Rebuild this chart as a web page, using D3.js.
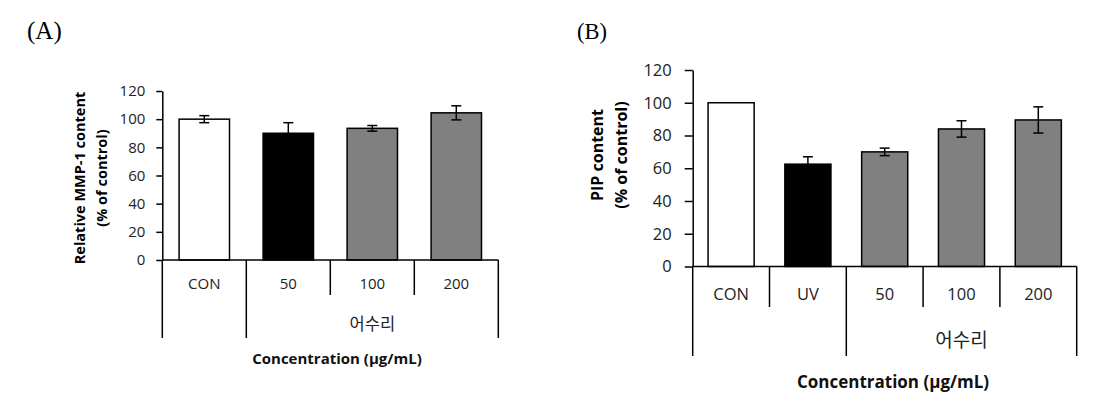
<!DOCTYPE html>
<html><head><meta charset="utf-8">
<script src="https://cdn.jsdelivr.net/npm/d3@7"></script>
<style>body{margin:0;background:#fff}svg{display:block}</style>
</head><body>
<svg id="c" width="1103" height="410"></svg>
<script>
// ---- data ----
const catsA = ["CON", "50", "100", "200"];
const valsA = [100, 90, 93.5, 104.5];
const errA = [2.5, 7.5, 2, 5];
const fillsA = ["#ffffff", "#000000", "#808080", "#808080"];
const groupsA = [{label: "", cats: ["CON"]}, {label: "어수리", cats: ["50", "100", "200"]}];

const catsB = ["CON", "UV", "50", "100", "200"];
const valsB = [100, 62.5, 70, 84, 89.5];
const errB = [0, 4.5, 2.3, 5, 8];
const fillsB = ["#ffffff", "#000000", "#808080", "#808080", "#808080"];
const groupsB = [{label: "", cats: ["CON", "UV"]}, {label: "어수리", cats: ["50", "100", "200"]}];

const yTicks = [0, 20, 40, 60, 80, 100, 120];
const xTitle = "Concentration (μg/mL)";

const svg = d3.select("#c");
const sans = "'Open Sans', 'Noto Sans CJK KR', sans-serif";

function panel(o) {
  const g = svg.append("g");
  const x = d3.scaleBand().domain(o.cats).range([o.x0, o.x1]).padding(0);
  const y = d3.scaleLinear().domain([0, 120]).range([o.yb, o.yt]);
  const bw = x.bandwidth() * o.barFrac;

  // panel letter
  g.append("text").attr("x", o.letterX).attr("y", 39)
    .attr("font-family", "'Liberation Serif','DejaVu Serif',serif").attr("font-size", o.letterSize)
    .attr("fill", "#000").text(o.letter);

  // bars
  g.selectAll("rect.bar").data(o.cats).join("rect")
    .attr("x", d => x(d) + (x.bandwidth() - bw) / 2)
    .attr("y", (d, i) => y(o.vals[i]))
    .attr("width", bw)
    .attr("height", (d, i) => y(0) - y(o.vals[i]))
    .attr("fill", (d, i) => o.fills[i])
    .attr("stroke", "#000").attr("stroke-width", 1.5);

  // error bars
  const cap = 5;
  o.cats.forEach((d, i) => {
    if (!o.errs[i]) return;
    const cx = x(d) + x.bandwidth() / 2;
    const top = y(o.vals[i] + o.errs[i]), bot = y(o.vals[i] - o.errs[i]);
    g.append("line").attr("x1", cx).attr("x2", cx).attr("y1", top).attr("y2", bot).attr("stroke", "#000").attr("stroke-width", 1.5);
    g.append("line").attr("x1", cx - cap).attr("x2", cx + cap).attr("y1", top).attr("y2", top).attr("stroke", "#000").attr("stroke-width", 1.5);
    g.append("line").attr("x1", cx - cap).attr("x2", cx + cap).attr("y1", bot).attr("y2", bot).attr("stroke", "#000").attr("stroke-width", 1.5);
  });

  // y axis
  const ya = g.append("g").attr("transform", `translate(${o.x0},0)`)
    .call(d3.axisLeft(y).tickValues(yTicks).tickSize(o.tickSize).tickSizeOuter(0).tickPadding(o.tickPad));
  ya.select(".domain").attr("stroke", "#000").attr("stroke-width", 1.5);
  ya.selectAll(".tick line").attr("stroke", "#000").attr("stroke-width", 1.5);
  ya.selectAll(".tick text").attr("font-family", sans).attr("font-size", o.fs).attr("fill", "#222");

  // x baseline
  g.append("line").attr("x1", o.x0).attr("x2", o.x1).attr("y1", y(0)).attr("y2", y(0)).attr("stroke", "#000").attr("stroke-width", 1.5);

  // separators
  const groupEdges = new Set();
  groupEdges.add(o.x0); groupEdges.add(o.x1);
  o.groups.forEach(gr => {
    groupEdges.add(x(gr.cats[0]));
    groupEdges.add(x(gr.cats[gr.cats.length - 1]) + x.bandwidth());
  });
  const edges = o.cats.map(d => x(d)).concat([o.x1]);
  edges.forEach(e => {
    const isLong = [...groupEdges].some(v => Math.abs(v - e) < 0.5);
    g.append("line").attr("x1", e).attr("x2", e).attr("y1", y(0)).attr("y2", isLong ? o.longB : o.shortB)
      .attr("stroke", "#000").attr("stroke-width", 1.5);
  });

  // category labels
  g.selectAll("text.cat").data(o.cats).join("text")
    .attr("x", d => x(d) + x.bandwidth() / 2).attr("y", o.catY)
    .attr("text-anchor", "middle").attr("font-family", sans).attr("font-size", o.fs).attr("fill", "#222")
    .text(d => d);

  // group labels
  o.groups.forEach(gr => {
    if (!gr.label) return;
    const a = x(gr.cats[0]), b = x(gr.cats[gr.cats.length - 1]) + x.bandwidth();
    g.append("text").attr("x", (a + b) / 2).attr("y", o.grpY).attr("text-anchor", "middle")
      .attr("font-family", "'Noto Sans CJK KR', sans-serif").attr("font-size", o.gfs).attr("fill", "#222").text(gr.label);
  });

  // x title
  g.append("text").attr("x", o.xtX).attr("y", o.xtY).attr("text-anchor", "middle")
    .attr("font-family", sans).attr("font-weight", "bold").attr("font-size", o.xtfs).attr("fill", "#111").text(xTitle);

  // y titles
  o.yTitles.forEach((t, i) => {
    g.append("text").attr("transform", `translate(${o.ytX[i]},${o.ytY}) rotate(-90)`)
      .attr("text-anchor", "middle").attr("dominant-baseline", "central")
      .attr("font-family", sans).attr("font-weight", "bold").attr("font-size", o.tfs).attr("fill", "#000").text(t);
  });
}

panel({
  letter: "(A)", letterX: 27, letterSize: 25,
  cats: catsA, vals: valsA, errs: errA, fills: fillsA, groups: groupsA,
  x0: 162.3, x1: 498.3, yb: 260, yt: 91, barFrac: 0.6,
  tickSize: 6, tickPad: 11, fs: 15, tfs: 14.5, xtfs: 15, gfs: 16.5,
  shortB: 295, longB: 338, catY: 288.5, grpY: 330, xtX: 337, xtY: 364,
  yTitles: ["Relative MMP-1 content", "(% of control)"], ytX: [79, 101], ytY: 178
});

panel({
  letter: "(B)", letterX: 577, letterSize: 22.5,
  cats: catsB, vals: valsB, errs: errB, fills: fillsB, groups: groupsB,
  x0: 692.7, x1: 1076.7, yb: 266.5, yt: 70, barFrac: 0.6,
  tickSize: 8, tickPad: 13, fs: 16.5, tfs: 16, xtfs: 17, gfs: 19,
  shortB: 307, longB: 356, catY: 300, grpY: 346.5, xtX: 893, xtY: 388,
  yTitles: ["PIP content", "(% of control)"], ytX: [597, 621], ytY: 155
});
</script>
</body></html>
